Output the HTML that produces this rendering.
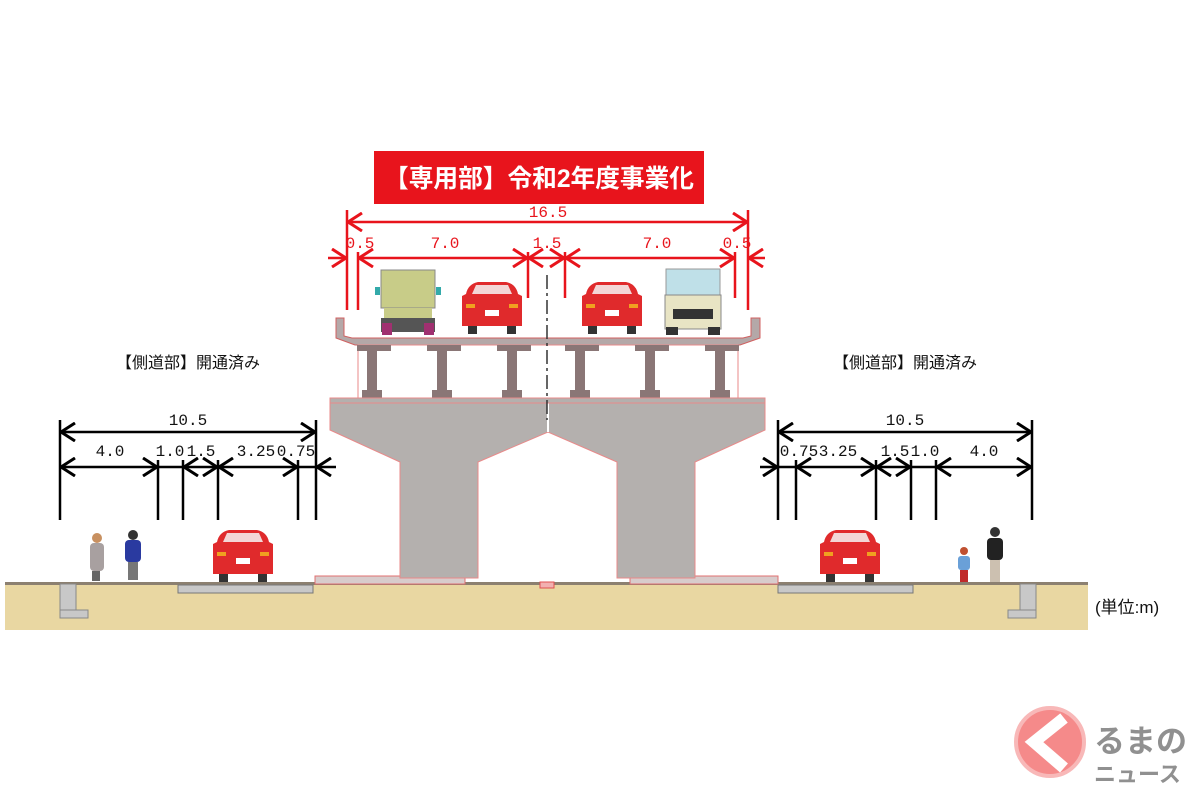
<!DOCTYPE html>
<html><head><meta charset="utf-8"><style>
html,body{margin:0;padding:0;background:#fff;width:1200px;height:800px;overflow:hidden}
svg{display:block}
text{font-family:"Liberation Mono","Noto Sans CJK JP",monospace}
.j{font-family:"Liberation Sans","Noto Sans CJK JP",sans-serif}
</style></head><body>
<svg width="1200" height="800" viewBox="0 0 1200 800" xmlns="http://www.w3.org/2000/svg">
<defs>
<marker id="r" viewBox="0 0 16 20" refX="16" refY="10" markerWidth="16" markerHeight="20" markerUnits="userSpaceOnUse" orient="auto-start-reverse"><path d="M1,1 L15,10 L1,19" fill="none" stroke="#e8141c" stroke-width="3"/></marker>
<marker id="b" viewBox="0 0 16 20" refX="16" refY="10" markerWidth="16" markerHeight="20" markerUnits="userSpaceOnUse" orient="auto-start-reverse"><path d="M1,1 L15,10 L1,19" fill="none" stroke="#000" stroke-width="3"/></marker>
<g id="car">
<path d="M-26,-40 Q-24,-50 -14,-52 L14,-52 Q24,-50 26,-40 L30,-38 L30,-8 L-30,-8 L-30,-38 Z" fill="#e02a2c"/>
<path d="M-20,-40 L-16,-49 L16,-49 L20,-40 Z" fill="#f3d6d6"/>
<rect x="-24" y="-8" width="9" height="8" fill="#333"/><rect x="15" y="-8" width="9" height="8" fill="#333"/>
<rect x="-7" y="-24" width="14" height="6" fill="#fff"/>
<rect x="-26" y="-30" width="9" height="4" fill="#f0a020"/><rect x="17" y="-30" width="9" height="4" fill="#f0a020"/>
</g>
</defs>

<rect x="5" y="584" width="1083" height="46" fill="#e9d7a2"/>
<rect x="5" y="582" width="1083" height="3" fill="#8c8070"/>
<rect x="178" y="585" width="135" height="8" fill="#c8c8c8" stroke="#777" stroke-width="1"/>
<rect x="778" y="585" width="135" height="8" fill="#c8c8c8" stroke="#777" stroke-width="1"/>
<rect x="60" y="584" width="16" height="30" fill="#c8c8c8" stroke="#888"/><rect x="60" y="610" width="28" height="8" fill="#c8c8c8" stroke="#888"/>
<rect x="1020" y="584" width="16" height="30" fill="#c8c8c8" stroke="#888"/><rect x="1008" y="610" width="28" height="8" fill="#c8c8c8" stroke="#888"/>
<rect x="315" y="576" width="150" height="8" fill="#d8cccc" stroke="#e07070"/>
<rect x="630" y="576" width="148" height="8" fill="#d8cccc" stroke="#e07070"/>
<rect x="540" y="582" width="14" height="6" fill="#f2b0b0" stroke="#e05050"/>

<path d="M330,402 L765,402 L765,430 L695,462 L695,578 L617,578 L617,462 L548,432 L478,462 L478,578 L400,578 L400,462 L330,430 Z" fill="#b4b0ae" stroke="#e88a8a" stroke-width="1"/>
<line x1="548" y1="402" x2="548" y2="432" stroke="#fff" stroke-width="2"/>

<path d="M336,318 L344,318 L344,336 L352,338 L743,338 L751,336 L751,318 L760,318 L760,338 L740,345 L355,345 L336,338 Z" fill="#b4a8a8" stroke="#d06060" stroke-width="1"/>
<rect x="358" y="345" width="380" height="53" fill="#fff" stroke="#e88a8a" stroke-width="1"/>
<g fill="#8a7676">
<rect x="357" y="345" width="34" height="6"/><rect x="367" y="351" width="10" height="42"/><rect x="362" y="390" width="20" height="8"/>
<rect x="427" y="345" width="34" height="6"/><rect x="437" y="351" width="10" height="42"/><rect x="432" y="390" width="20" height="8"/>
<rect x="497" y="345" width="34" height="6"/><rect x="507" y="351" width="10" height="42"/><rect x="502" y="390" width="20" height="8"/>
<rect x="565" y="345" width="34" height="6"/><rect x="575" y="351" width="10" height="42"/><rect x="570" y="390" width="20" height="8"/>
<rect x="635" y="345" width="34" height="6"/><rect x="645" y="351" width="10" height="42"/><rect x="640" y="390" width="20" height="8"/>
<rect x="705" y="345" width="34" height="6"/><rect x="715" y="351" width="10" height="42"/><rect x="710" y="390" width="20" height="8"/>
</g>
<rect x="330" y="398" width="435" height="5" fill="#b4b0ae" stroke="#e88a8a" stroke-width="1"/>
<line x1="547" y1="275" x2="547" y2="420" stroke="#333" stroke-width="1.5" stroke-dasharray="14,4,3,4"/>

<g transform="translate(408,335)">
<rect x="-27" y="-65" width="54" height="38" fill="#c8cc88" stroke="#888"/>
<rect x="-24" y="-27" width="48" height="10" fill="#c8cc88"/>
<rect x="-27" y="-17" width="54" height="14" fill="#555"/>
<rect x="-26" y="-12" width="10" height="12" fill="#a03070"/><rect x="16" y="-12" width="10" height="12" fill="#a03070"/>
<rect x="-33" y="-48" width="5" height="8" fill="#3aa"/><rect x="28" y="-48" width="5" height="8" fill="#3aa"/>
</g>
<use href="#car" transform="translate(492,334)"/>
<use href="#car" transform="translate(612,334)"/>
<g transform="translate(693,335)">
<rect x="-27" y="-66" width="54" height="26" fill="#bfe0e8" stroke="#999"/>
<rect x="-28" y="-40" width="56" height="34" fill="#e8e4c4" stroke="#888"/>
<rect x="-20" y="-26" width="40" height="10" fill="#333"/>
<rect x="-27" y="-8" width="12" height="8" fill="#333"/><rect x="15" y="-8" width="12" height="8" fill="#333"/>
</g>

<use href="#car" transform="translate(243,582)"/>
<use href="#car" transform="translate(850,582)"/>
<g><rect x="90" y="543" width="14" height="28" rx="4" fill="#a8a0a0"/><circle cx="97" cy="538" r="5" fill="#c89060"/><rect x="92" y="571" width="8" height="10" fill="#666"/></g>
<g><rect x="125" y="540" width="16" height="22" rx="4" fill="#2a3aa0"/><circle cx="133" cy="535" r="5" fill="#333"/><rect x="128" y="562" width="10" height="18" fill="#777"/></g>
<g><rect x="958" y="556" width="12" height="14" rx="3" fill="#6aa0d8"/><circle cx="964" cy="551" r="4" fill="#c05030"/><rect x="960" y="570" width="8" height="12" fill="#c02a2a"/></g>
<g><rect x="987" y="538" width="16" height="22" rx="4" fill="#222"/><circle cx="995" cy="532" r="5" fill="#333"/><rect x="990" y="560" width="10" height="22" fill="#ccc0b0"/></g>

<rect x="374" y="151" width="330" height="53" fill="#e8141c"/>
<text x="539" y="187" text-anchor="middle" class="j" font-size="25" font-weight="bold" fill="#fff" textLength="310" lengthAdjust="spacingAndGlyphs">【専用部】令和2年度事業化</text>

<g stroke="#e8141c" stroke-width="2.5" fill="none">
<line x1="347" y1="210" x2="347" y2="310"/><line x1="748" y1="210" x2="748" y2="310"/>
<line x1="347" y1="222" x2="748" y2="222" marker-start="url(#r)" marker-end="url(#r)"/>
<line x1="358" y1="252" x2="358" y2="310"/><line x1="528" y1="252" x2="528" y2="298"/>
<line x1="565" y1="252" x2="565" y2="298"/><line x1="735" y1="252" x2="735" y2="298"/>
<line x1="328" y1="258" x2="347" y2="258" marker-end="url(#r)"/>
<line x1="358" y1="258" x2="528" y2="258" marker-start="url(#r)" marker-end="url(#r)"/>
<line x1="528" y1="258" x2="565" y2="258" marker-start="url(#r)" marker-end="url(#r)"/>
<line x1="565" y1="258" x2="735" y2="258" marker-start="url(#r)" marker-end="url(#r)"/>
<line x1="765" y1="258" x2="748" y2="258" marker-end="url(#r)"/>
</g>
<g fill="#e8141c" font-size="16" text-anchor="middle">
<text x="548" y="217">16.5</text><text x="360" y="248">0.5</text><text x="445" y="248">7.0</text>
<text x="547" y="248">1.5</text><text x="657" y="248">7.0</text><text x="737" y="248">0.5</text>
</g>

<text x="188" y="368" text-anchor="middle" class="j" font-size="16" fill="#111">【側道部】開通済み</text>
<text x="905" y="368" text-anchor="middle" class="j" font-size="16" fill="#111">【側道部】開通済み</text>

<g stroke="#000" stroke-width="2.5" fill="none">
<line x1="60" y1="420" x2="60" y2="520"/><line x1="316" y1="420" x2="316" y2="520"/>
<line x1="60" y1="432" x2="316" y2="432" marker-start="url(#b)" marker-end="url(#b)"/>
<line x1="158" y1="460" x2="158" y2="520"/><line x1="183" y1="460" x2="183" y2="520"/>
<line x1="218" y1="460" x2="218" y2="520"/><line x1="298" y1="460" x2="298" y2="520"/>
<line x1="60" y1="467" x2="158" y2="467" marker-start="url(#b)" marker-end="url(#b)"/>
<line x1="158" y1="467" x2="183" y2="467"/>
<line x1="183" y1="467" x2="218" y2="467" marker-start="url(#b)" marker-end="url(#b)"/>
<line x1="218" y1="467" x2="298" y2="467" marker-start="url(#b)" marker-end="url(#b)"/>
<line x1="298" y1="467" x2="316" y2="467"/>
<line x1="336" y1="467" x2="316" y2="467" marker-end="url(#b)"/>
</g>
<g fill="#111" font-size="16" text-anchor="middle">
<text x="188" y="425">10.5</text><text x="110" y="456">4.0</text><text x="170" y="456">1.0</text>
<text x="201" y="456">1.5</text><text x="256" y="456">3.25</text><text x="296" y="456">0.75</text>
</g>

<g stroke="#000" stroke-width="2.5" fill="none">
<line x1="778" y1="420" x2="778" y2="520"/><line x1="1032" y1="420" x2="1032" y2="520"/>
<line x1="778" y1="432" x2="1032" y2="432" marker-start="url(#b)" marker-end="url(#b)"/>
<line x1="796" y1="460" x2="796" y2="520"/><line x1="876" y1="460" x2="876" y2="520"/>
<line x1="911" y1="460" x2="911" y2="520"/><line x1="936" y1="460" x2="936" y2="520"/>
<line x1="760" y1="467" x2="778" y2="467" marker-end="url(#b)"/>
<line x1="778" y1="467" x2="796" y2="467"/>
<line x1="796" y1="467" x2="876" y2="467" marker-start="url(#b)" marker-end="url(#b)"/>
<line x1="876" y1="467" x2="911" y2="467" marker-start="url(#b)" marker-end="url(#b)"/>
<line x1="911" y1="467" x2="936" y2="467"/>
<line x1="936" y1="467" x2="1032" y2="467" marker-start="url(#b)" marker-end="url(#b)"/>
</g>
<g fill="#111" font-size="16" text-anchor="middle">
<text x="905" y="425">10.5</text><text x="799" y="456">0.75</text><text x="838" y="456">3.25</text>
<text x="895" y="456">1.5</text><text x="925" y="456">1.0</text><text x="984" y="456">4.0</text>
</g>

<text x="1095" y="613" class="j" font-size="17" fill="#111">(単位:m)</text>

<circle cx="1050" cy="742" r="34" fill="#f58a8a" stroke="#f8b8b8" stroke-width="4"/>
<path d="M1064,718 L1034,742 L1064,768" fill="none" stroke="#fff" stroke-width="12"/>
<text x="1094" y="752" class="j" font-size="31" font-weight="bold" fill="#909090">るまの</text>
<text x="1094" y="782" class="j" font-size="22" font-weight="bold" fill="#909090">ニュース</text>
</svg>
</body></html>
